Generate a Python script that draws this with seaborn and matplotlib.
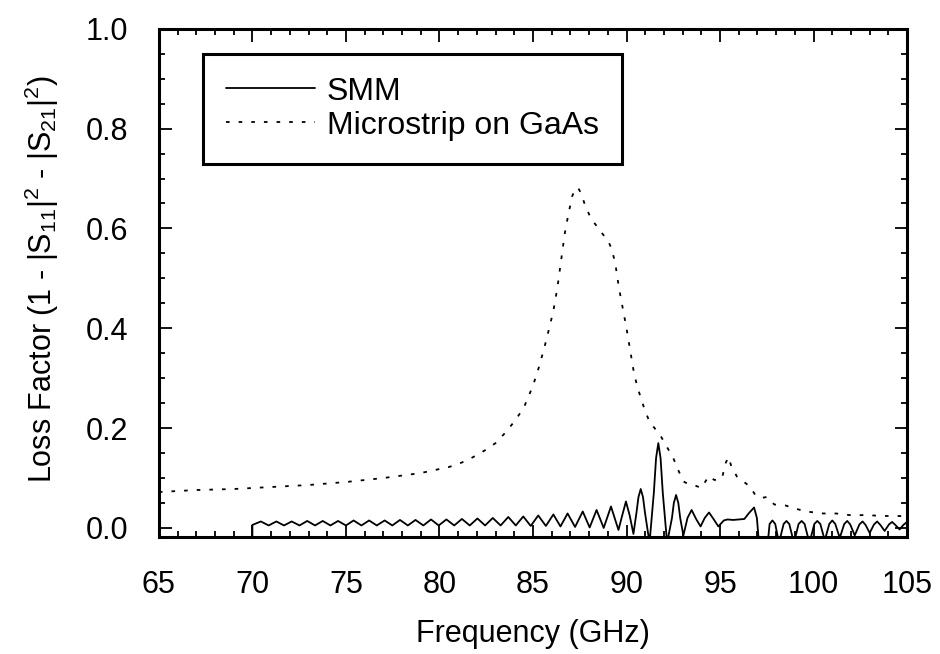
import seaborn as sns
import matplotlib.pyplot as plt
from matplotlib.ticker import MultipleLocator

# SMM line: ripple (peaks, valleys and a few shoulder points)
smm_freq = [70.0, 70.0,
            70.45, 70.87, 71.28, 71.69, 72.10, 72.52, 72.93, 73.35, 73.76, 74.17,
            74.58, 75.00, 75.41, 75.83, 76.24, 76.65, 77.07, 77.48, 77.89, 78.31,
            78.72, 79.14, 79.55, 79.96, 80.37, 80.79, 81.20, 81.62, 82.03, 82.44,
            82.85, 83.27, 83.68, 84.08, 84.48, 84.88, 85.28, 85.69, 86.09, 86.47,
            86.85, 87.25, 87.66, 88.03, 88.40, 88.78, 89.17, 89.57, 89.77, 89.97,
            90.17, 90.37, 90.53, 90.64, 90.76, 90.88, 90.99, 91.23, 91.46, 91.58,
            91.70, 91.82, 91.94, 92.17, 92.43, 92.53, 92.65, 92.77, 92.87, 93.04,
            93.26, 93.48, 93.72, 93.96, 94.18, 94.41, 94.65, 94.91, 95.2, 95.4,
            95.7, 96.0, 96.3, 96.55, 96.82, 96.97, 97.08, 97.55, 97.65, 97.8,
            97.95, 98.15, 98.4, 98.55, 98.7, 98.95, 99.2, 99.36, 99.52, 99.78,
            100.04, 100.2, 100.36, 100.6, 100.84, 101.0, 101.16, 101.4, 101.64, 101.8,
            101.96, 102.2, 102.45, 102.62, 102.78, 103.0, 103.23, 103.4, 103.57, 103.8,
            104.03, 104.2, 104.37, 104.6, 104.8, 105.0]
smm_loss = [-0.03, 0.006,
            0.013, 0.005, 0.013, 0.005, 0.013, 0.005, 0.014, 0.005, 0.014, 0.005,
            0.014, 0.005, 0.015, 0.005, 0.015, 0.005, 0.015, 0.005, 0.016, 0.005,
            0.016, 0.005, 0.017, 0.005, 0.017, 0.005, 0.018, 0.005, 0.019, 0.005,
            0.020, 0.005, 0.022, 0.005, 0.023, 0.004, 0.025, 0.004, 0.027, 0.003,
            0.029, 0.002, 0.033, 0.001, 0.036, 0.000, 0.043, -0.004, 0.025, 0.053,
            0.025, -0.012, 0.03, 0.062, 0.078, 0.062, 0.03, -0.03, 0.07, 0.14,
            0.17, 0.14, 0.07, -0.03, 0.02, 0.05, 0.066, 0.05, 0.02, -0.015,
            0.02, 0.036, 0.018, 0.003, 0.02, 0.031, 0.018, 0.003, 0.015, 0.017,
            0.016, 0.017, 0.018, 0.03, 0.041, 0.02, -0.03, -0.03, 0.008, 0.015,
            0.008, -0.03, 0.008, 0.014, 0.008, -0.03, 0.008, 0.014, 0.008, -0.03,
            0.008, 0.014, 0.008, -0.025, 0.008, 0.015, 0.008, -0.02, 0.008, 0.014,
            0.007, -0.015, 0.007, 0.013, 0.006, -0.01, 0.007, 0.013, 0.006, -0.006,
            0.007, 0.012, 0.006, -0.003, 0.006, 0.012]

# Microstrip on GaAs (dotted line)
gaas_freq = [65.0, 66.0, 67.0, 68.0, 69.0, 70.0, 71.0, 72.0, 73.0, 74.0, 75.0, 76.0,
             77.0, 78.0, 79.0, 80.0, 80.5, 81.0, 81.5, 82.0, 82.5, 83.0, 83.5, 84.0,
             84.5, 85.0, 85.3, 85.6, 85.9, 86.1, 86.3, 86.5, 86.7, 86.9, 87.1, 87.25,
             87.4, 87.55, 87.8, 88.1, 88.4, 88.7, 89.0, 89.2, 89.4, 89.6, 89.8, 90.0,
             90.2, 90.4, 90.6, 90.9, 91.2, 91.5, 91.8, 92.15, 92.5, 92.8, 93.05, 93.3,
             93.6, 94.0, 94.2, 94.4, 94.7, 95.1, 95.3, 95.45, 95.6, 95.9, 96.25, 96.6,
             96.9, 97.2, 97.5, 97.9, 98.5, 99.0, 99.6, 100.5, 101.2, 102.1, 102.8, 103.6,
             104.5, 105.0]
gaas_loss = [0.072, 0.074, 0.076, 0.077, 0.078, 0.080, 0.082, 0.084, 0.086, 0.089, 0.092, 0.096,
             0.100, 0.105, 0.110, 0.118, 0.122, 0.128, 0.136, 0.146, 0.157, 0.170, 0.190, 0.213,
             0.240, 0.285, 0.32, 0.36, 0.405, 0.437, 0.48, 0.535, 0.59, 0.63, 0.665, 0.678,
             0.682, 0.672, 0.645, 0.62, 0.605, 0.59, 0.576, 0.56, 0.53, 0.48, 0.44, 0.40,
             0.355, 0.31, 0.28, 0.245, 0.215, 0.20, 0.186, 0.163, 0.14, 0.113, 0.093, 0.088,
             0.086, 0.080, 0.092, 0.104, 0.096, 0.099, 0.13, 0.142, 0.124, 0.103, 0.093, 0.083,
             0.065, 0.06, 0.062, 0.047, 0.045, 0.039, 0.033, 0.029, 0.029, 0.025, 0.026, 0.024,
             0.024, 0.023]

sns.set_theme(style="ticks", rc={'text.color': 'black', 'axes.labelcolor': 'black',
                                 'xtick.color': 'black', 'ytick.color': 'black',
                                 'axes.edgecolor': 'black'})
plt.rcParams['font.family'] = ['Liberation Sans', 'DejaVu Sans']
plt.rcParams['mathtext.fontset'] = 'custom'
plt.rcParams['mathtext.rm'] = 'Liberation Sans'
plt.rcParams['mathtext.default'] = 'rm'

fig = plt.figure(figsize=(9.4, 6.54), dpi=100)
ax = fig.add_axes([0.169, 0.179, 0.796, 0.777])

sns.lineplot(x=smm_freq, y=smm_loss, ax=ax, color='black', linewidth=1.3,
             estimator=None, sort=False, label='SMM')
sns.lineplot(x=gaas_freq, y=gaas_loss, ax=ax, color='black', linewidth=1.3,
             linestyle=(0, (2, 5)), estimator=None, sort=False,
             label='Microstrip on GaAs')

ax.set_xlim(65, 105)
ax.xaxis.set_major_locator(MultipleLocator(5))
ax.xaxis.set_minor_locator(MultipleLocator(1))
ax.yaxis.set_minor_locator(MultipleLocator(0.05))
ax.set_yticks([0, 0.2, 0.4, 0.6, 0.8, 1.0])
ax.set_yticklabels(['0.0', '0.2', '0.4', '0.6', '0.8', '1.0'])
ax.set_ylim(-0.018, 1.0)

ax.tick_params(which='both', direction='in', top=True, right=True,
               color='black', width=1.3)
ax.tick_params(which='major', length=9, labelsize=22, pad=24)
ax.tick_params(which='minor', length=4.5)
ax.tick_params(axis='y', which='major', pad=22)

for sp in ax.spines.values():
    sp.set_linewidth(2.2)
    sp.set_color('black')

ax.set_xlabel('Frequency (GHz)', fontsize=22, va='center')
ax.xaxis.set_label_coords(0.5, -0.191)
ax.set_ylabel(r'Loss Factor (1 - |S$_{11}$|$^{2}$ - |S$_{21}$|$^{2}$)',
              fontsize=22, va='center')
ax.yaxis.set_label_coords(-0.157, 0.508)

leg = ax.legend(loc='upper left', bbox_to_anchor=(0.059, 0.951), borderaxespad=0,
                fontsize=23, handlelength=2.8, handletextpad=0.35,
                labelspacing=0.12, borderpad=0.72, fancybox=False, framealpha=1)
leg.get_frame().set_edgecolor('black')
leg.get_frame().set_linewidth(2.2)

fig.savefig('out.png', dpi=100)
